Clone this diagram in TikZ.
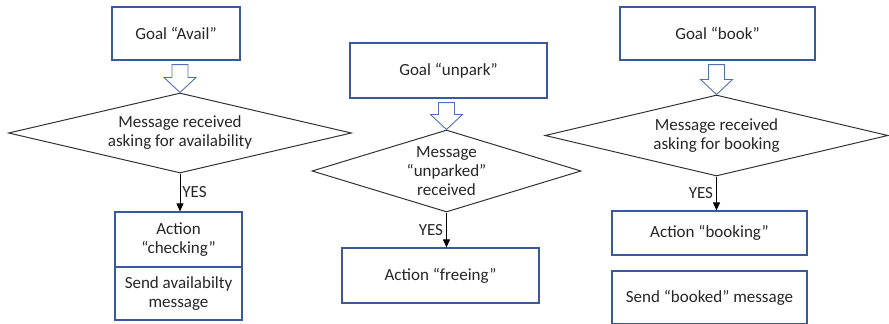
\documentclass[tikz,border=0pt]{standalone}
\usepackage{fontspec}
\setmainfont{Carlito}
\usetikzlibrary{shapes.geometric,calc,arrows.meta}
\definecolor{boxblue}{RGB}{58,88,156}
\definecolor{arrowblue}{RGB}{80,112,180}
\definecolor{ink}{RGB}{38,38,38}
\definecolor{lineg}{RGB}{50,50,50}
\tikzset{
  every node/.style={font=\fontsize{17}{19}\selectfont, text=ink, align=center},
  box/.style={draw=boxblue, line width=1.2pt, fill=white, rectangle, inner sep=0pt},
  decision/.style={draw=lineg, line width=1pt, diamond, inner sep=0pt},
  hollow/.style={draw=arrowblue, line width=0.9pt, fill=white, line join=miter},
  yesarrow/.style={draw=black, line width=0.9pt, -{Triangle[length=8pt,width=7pt]}},
}
% Hollow block arrow from a goal box down to the tip of its diamond
\newcommand\goalarrow[2]{%
  \path[hollow] let \p1=(#1.south), \p2=(#2.north) in
    (\x2-8pt,\y1-4pt) -- (\x2+8pt,\y1-4pt) -- (\x2+8pt,\y2+15pt)
    -- (\x2+16pt,\y2+15pt) -- (\x2,\y2) -- (\x2-16pt,\y2+15pt)
    -- (\x2-8pt,\y2+15pt) -- cycle;}
\begin{document}
\begin{tikzpicture}[x=1pt,y=-1pt]
\useasboundingbox (0,0) rectangle (889,324);

% left column
\node[box, minimum width=128pt, minimum height=53pt] (g1) at (176,33.5) {Goal “Avail”};
\node[decision, minimum width=343pt, minimum height=80pt, aspect=4.3] (d1) at (180,133)
  {Message received\\asking for availability};
\node[box, minimum width=127pt, minimum height=55pt] (a1) at (178.5,239.5) {Action\\“checking”};
\node[box, minimum width=127pt, minimum height=53pt] (s1) at (178.5,293.5) {Send availabilty\\message};
\goalarrow{g1}{d1}
\draw[yesarrow] (d1.south) -- (d1.south |- a1.north) node[midway, right, inner sep=2pt] {YES};

% middle column
\node[box, minimum width=197pt, minimum height=55pt] (g2) at (448.5,70.5) {Goal “unpark”};
\node[decision, minimum width=269pt, minimum height=82pt, aspect=3.2] (d2) at (446.5,171)
  {Message\\“unparked”\\received};
\node[box, minimum width=197pt, minimum height=55pt] (a2) at (440.5,275.5) {Action “freeing”};
\goalarrow{g2}{d2}
\draw[yesarrow] (d2.south) -- (d2.south |- a2.north) node[midway, left, inner sep=3pt] {YES};

% right column
\node[box, minimum width=195pt, minimum height=53pt] (g3) at (717.5,33.5) {Goal “book”};
\node[decision, minimum width=343pt, minimum height=81pt, aspect=4.2] (d3) at (716.5,135.5)
  {Message received\\asking for booking};
\node[box, minimum width=195pt, minimum height=44pt] (a3) at (709.5,233) {Action “booking”};
\node[box, minimum width=195pt, minimum height=53pt] (s3) at (709.5,297.5) {Send “booked” message};
\goalarrow{g3}{d3}
\draw[yesarrow] (d3.south) -- (d3.south |- a3.north) node[midway, left, inner sep=3pt] {YES};
\end{tikzpicture}
\end{document}
